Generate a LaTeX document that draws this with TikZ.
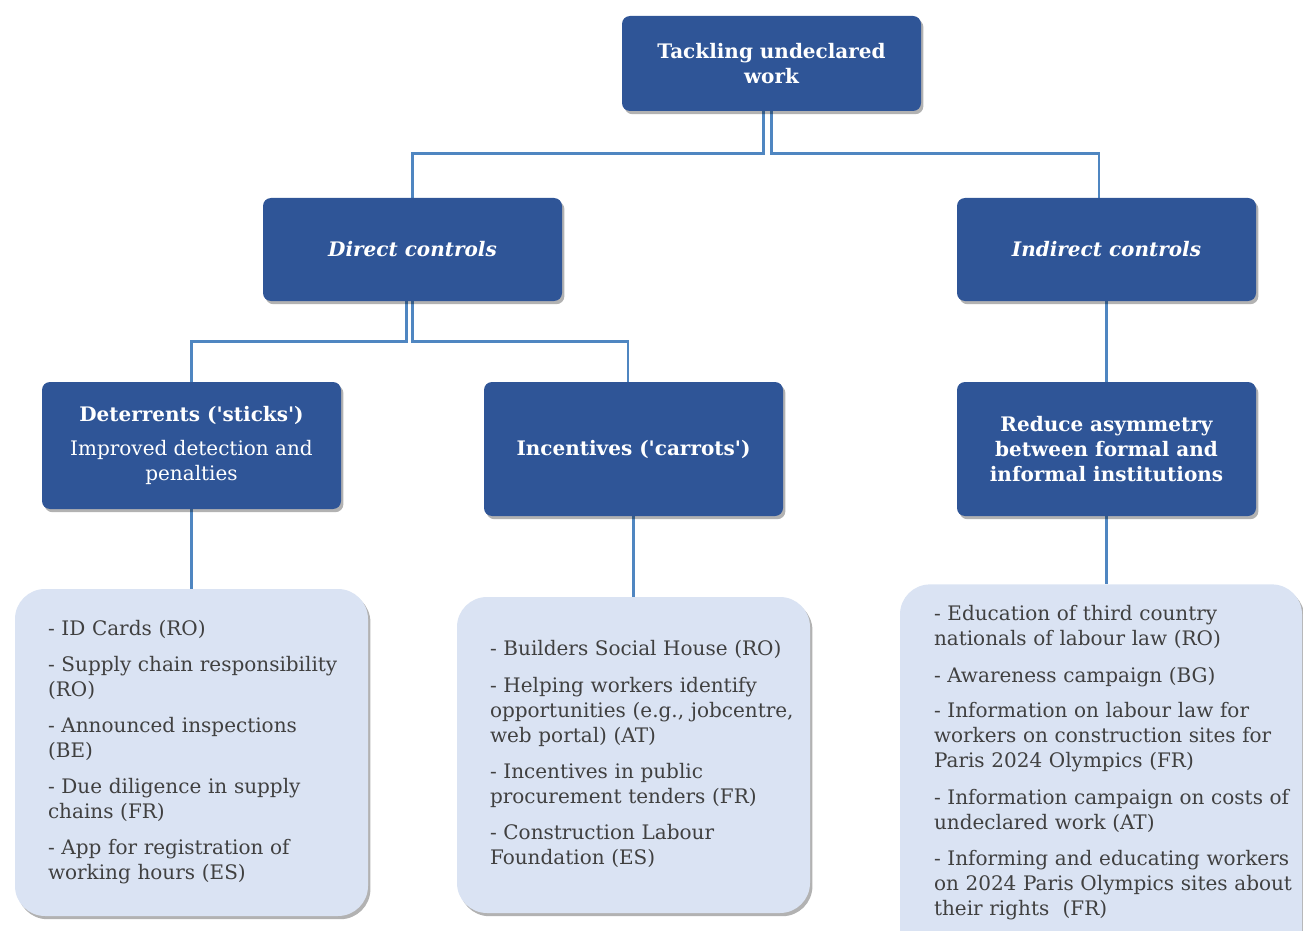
\documentclass[tikz,border=0pt]{standalone}
\usepackage{fontspec}
\setmainfont{DejaVu Serif}
\usepackage{xcolor}
\usepackage{tikz}
\usetikzlibrary{backgrounds,positioning,shadows}
\definecolor{uwDark}{HTML}{2F5597}
\definecolor{uwPale}{HTML}{DAE3F3}
\definecolor{uwLink}{HTML}{4F86C1}
\definecolor{uwInk}{HTML}{404040}
\newcommand{\uwlines}[1]{\begin{tabular}{@{}l@{}}#1\end{tabular}}
\tikzset{
  uw diagram/.style={x=0.5pt, y=-0.5pt,
    font=\fontsize{10}{12.5}\selectfont},
  uw box/.style={fill=uwDark, text=white, rounded corners=4pt,
    align=center, minimum width=149.5pt, inner sep=4pt,
    drop shadow={shadow xshift=1.2pt, shadow yshift=-1.6pt,
      opacity=0.3, fill=black}},
  uw key box/.style={uw box, font=\fontsize{10}{12.5}\selectfont\bfseries},
  uw list box/.style={fill=uwPale, text=uwInk, rounded corners=15pt,
    align=left, text width=143.5pt, inner xsep=16.5pt, inner ysep=6pt,
    drop shadow={shadow xshift=1.2pt, shadow yshift=-1.6pt,
      opacity=0.3, fill=black}},
  uw link/.style={draw=uwLink, line width=1.4pt}
}

\begin{document}
\begin{tikzpicture}[uw diagram]
\useasboundingbox (0,0) rectangle (1303,931);
\node[uw key box,minimum height=47.5pt] (top) at (771.5,63.5) {Tackling undeclared\\work};
\node[uw key box,minimum height=51.5pt] (direct) at (412.5,249.5) {\itshape Direct controls};
\node[uw key box,minimum height=51.5pt] (indirect) at (1106.5,249.5) {\itshape Indirect controls};
\node[uw box,minimum height=63.5pt] (deter) at (191.5,445.5)
  {\textbf{Deterrents (\textquotesingle sticks\textquotesingle)}\\[4.5pt]Improved detection and\\penalties};
\node[uw key box,minimum height=67pt] (incent) at (633.5,449)
  {Incentives (\textquotesingle carrots\textquotesingle)};
\node[uw key box,minimum height=67pt] (reduce) at (1106.5,449)
  {Reduce asymmetry\\between formal and\\informal institutions};
\node[uw list box,minimum height=163.5pt] (sticks) at (191.5,752.5)
  {\uwlines{- ID Cards (RO)\\[5.5pt]
   - Supply chain responsibility\\(RO)\\[5.5pt]
   - Announced inspections\\(BE)\\[5.5pt]
   - Due diligence in supply\\chains (FR)\\[5.5pt]
   - App for registration of\\working hours (ES)}};
\node[uw list box,minimum height=158pt] (carrots) at (633.5,755)
  {\uwlines{- Builders Social House (RO)\\[6pt]
   - Helping workers identify\\opportunities (e.g., jobcentre,\\web portal) (AT)\\[5.5pt]
   - Incentives in public\\procurement tenders (FR)\\[5.5pt]
   - Construction Labour\\Foundation (ES)}};
\node[uw list box,anchor=north,text width=167pt,inner xsep=17pt,inner ysep=9.5pt] (asym) at (1101,584)
  {\uwlines{- Education of third country\\nationals of labour law (RO)\\[6pt]
   - Awareness campaign (BG)\\[5pt]
   - Information on labour law for\\workers on construction sites for\\Paris 2024 Olympics (FR)\\[6pt]
   - Information campaign on costs of\\undeclared work (AT)\\[5.5pt]
   - Informing and educating workers\\on 2024 Paris Olympics sites about\\their rights~ (FR)\\[8pt]~}};
% connectors
\begin{scope}[on background layer]
\draw[uw link] ([xshift=-4pt]top.south) -- ++(0,42) -| (direct.north);
\draw[uw link] (top.south) -- ++(0,42) -| ([xshift=-3.75pt]indirect.north);
\draw[uw link] ([xshift=-3pt]direct.south) -- ++(0,40) -| (deter.north);
\draw[uw link] (direct.south) -- ++(0,40) -| ([xshift=-2.75pt]incent.north);
\draw[uw link] (indirect.south) -- (reduce.north);
\draw[uw link] (deter.south) -- (sticks.north);
\draw[uw link] (incent.south) -- (carrots.north);
\draw[uw link] (reduce.south) -- (reduce.south |- asym.north);
\end{scope}
\end{tikzpicture}
\end{document}
